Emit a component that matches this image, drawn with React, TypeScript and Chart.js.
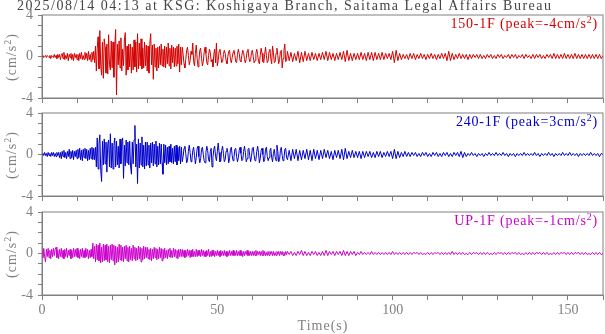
import React, { useEffect, useRef } from "react";
import { Chart, registerables } from "chart.js";

Chart.register(...registerables);

// ---------------- data ----------------
const TITLE = "2025/08/14 04:13 at KSG: Koshigaya Branch, Saitama Legal Affairs Bureau";
const EARLY_INTERVAL_S = 0.25; // sample interval for 0–70 s
const LATE_START_S = 70;
const LATE_INTERVAL_S = 0.5; // sample interval for 70–160 s
const VALUE_UNIT = 0.1; // values below are in units of 0.1 cm/s^2
const X_TICK_VALUES = [0, 10, 20, 30, 40, 50, 60, 70, 80, 90, 100, 110, 120, 130, 140, 150, 160];
const X_TICK_LABELS = [0, 50, 100, 150];
const Y_TICK_VALUES = [-4, -3, -2, -1, 0, 1, 2, 3, 4];
const Y_TICK_LABELS = [-4, 0, 4];
const CHANNEL_NAMES = ["150-1F", "240-1F", "UP-1F"];
const CHANNEL_PEAKS = ["-4", "3", "-1"];

// 150-1F, 0–70 s (every 0.25 s), 0.1 cm/s^2
const ACC_150_1F_EARLY = [
  0, 1, -1, 0, 1, -1, 1, 0, -1, 1, -2, 1, 0, -1, 2, -1, 1, -2, 2, -1,
  2, -3, 1, 3, -2, 4, -3, 1, -2, 3, -4, 2, -1, 3, -3, 2, -4, 3, -1, 2,
  -3, 2, -4, 3, -2, 4, -3, 1, -3, 4, -2, 3, -4, 5, -3, 2, -5, 4, -3, 5,
  -6, 10, -14, 8, 19, -12, 25, -9, -18, 14, -21, 17, 9, -16, 12, -17, 21, -8, -13, 15,
  -11, 14, -20, 9, 26, -37, 12, -8, 15, -11, 18, -14, 7, -9, 16, 23, -18, 10, -13, 12,
  -10, 12, -16, 9, -13, 16, -10, 14, -15, 22, -12, 13, -9, 17, -12, 8, -11, 14, -9, 11,
  -14, 10, -16, 13, 22, -8, 11, -22, 12, -10, 8, -14, 9, -11, 10, -8, 12, -9, 7, -10,
  10, -11, 9, -7, 13, -9, 8, -12, 11, -6, 9, -10, 8, -9, 10, -7, 12, -15, 9, -8,
  9, 2, -7, -11, -3, 6, 9, 1, -8, -4, 5, 2, 13, -5, -9, 3, 11, -2, -10, -4,
  6, 8, -2, -9, -5, 4, 9, 3, -6, -8, 1, 7, 4, -5, -3, -10, 2, 7, -6, 13,
  -9, -4, 5, 7, 1, -6, -5, 2, 6, 3, -4, -7, 0, 5, 6, -3, -6, -1, 4, 6,
  1, -5, -6, 2, 7, 3, -4, -5, 1, 6, 4, -3, -6, -2, 5, 7, -1, -5, -3, 4,
  6, 0, -6, -4, 3, 7, 2, -5, -7, 1, 8, 3, -5, -6, 2, 9, 1, -6, -4, 5,
  7, -2, -7, 10, 4, -6, -5, 3, 8, 1, -7, -3, 5, 6, -11, -2, 6, 12, -5, -4,
];

// 150-1F, 70–160 s (every 0.5 s)
const ACC_150_1F_LATE = [
  5, -4, 4, -5, 3, -4, 5, -6, 4, -5,
  5, -4, 3, -4, 4, -3, 3, -4, 3, -3,
  4, -3, 5, -4, 4, -3, 3, -4, 3, -3,
  4, -3, 5, -5, 6, -4, 3, -4, 3, -3,
  3, -3, 4, -3, 3, -4, 4, -3, 4, -4,
  4, -3, 3, -3, 4, -3, 3, -2, 3, -3,
  5, -6, 6, -4, 3, -3, 2, -2, 2, -3,
  3, -2, 3, -3, 2, -2, 3, -2, 2, -3,
  2, -2, 3, -2, 2, -3, 2, -2, 3, -2,
  3, -4, 5, -4, 3, -3, 2, -2, 3, -2,
  2, -2, 2, -3, 2, -2, 2, -1, 2, -2,
  2, -2, 1, -2, 2, -1, 2, -2, 1, -2,
  2, -1, 2, -2, 1, -1, 2, -2, 2, -1,
  2, -2, 1, -1, 2, -2, 2, -1, 1, -2,
  2, -2, 2, -1, 2, -2, 1, -2, 2, -1,
  2, -2, 3, -2, 2, -2, 2, -2, 3, -2,
  2, -2, 2, -2, 3, -2, 2, -2, 2, -2,
  2, -2, 2, -2, 2, -2, 2, -2, 2, -2,
  1,
];

// 240-1F, 0–70 s (every 0.25 s)
const ACC_240_1F_EARLY = [
  0, 1, -1, 2, -1, 1, -2, 2, -1, 1, -2, 2, -1, 2, -2, 1, -2, 2, -1, 2,
  -3, 2, -4, 3, -2, 4, -3, 2, -4, 3, -2, 5, -4, 3, -3, 4, -5, 3, -2, 4,
  -4, 5, -3, 6, -5, 4, -6, 5, -3, 6, -4, 5, -6, 4, -5, 6, -4, 7, -5, 6,
  -5, 7, -12, 16, -14, 10, 19, -15, -26, 13, -10, 15, -9, 12, -17, 10, 14, -12, 20, -13,
  11, -14, 9, 16, -12, 13, -10, 8, -13, 15, -9, 11, 16, -23, 9, -11, 14, -8, 12, -10,
  13, -11, -19, 12, -9, 14, 28, -12, 10, -28, 15, -13, 11, -10, 17, -12, 9, -14, 12, -11,
  12, -10, 9, -13, 11, -8, 12, -11, 10, -9, 13, -12, 8, -10, 11, -9, 10, -8, -19, 10,
  -8, 9, -10, 7, -9, 8, -7, 10, -8, 6, -9, 8, -7, 9, -10, 7, -6, 8, -9, 7,
  -7, -2, 6, 8, 1, -8, -6, 3, 9, 2, -7, -5, 4, 7, -1, -9, -3, 6, 8, -2,
  -8, -4, 5, 7, 0, -6, -8, 2, 8, 4, -5, -7, 3, 6, -12, -3, 5, 8, -2, -6,
  3, 11, 2, -7, -6, 4, 8, 1, -7, -5, 3, 6, 2, -8, -4, 5, 7, -1, -6, -3,
  5, 6, -2, -7, -3, 4, 7, 1, -6, -5, 3, 8, 2, -7, -4, 5, 6, -1, -7, -2,
  6, 7, -1, -6, -5, 3, 8, 2, -8, -4, 4, 6, 0, -7, -5, 5, 7, -2, -6, -3,
  4, 6, -3, -7, 1, 5, -2, -6, 9, 3, -7, -5, 4, 7, -1, -6, -4, 5, 6, -3,
];

// 240-1F, 70–160 s (every 0.5 s)
const ACC_240_1F_LATE = [
  -5, 4, -6, 5, -4, 5, -6, 4, -5, 4,
  -4, 5, -5, 4, -6, 5, -4, 4, -5, 4,
  -4, 5, -3, 4, -4, 3, -5, 4, -3, 4,
  -4, 5, -5, 6, -4, 3, -3, 4, -3, 3,
  -3, 3, -4, 3, -3, 3, -2, 3, -3, 2,
  -3, 3, -2, 3, -3, 2, -2, 3, -2, 3,
  -4, 5, -4, 3, -3, 2, -2, 3, -2, 2,
  -2, 2, -1, 2, -2, 1, -2, 2, -1, 2,
  -2, 1, -2, 2, -1, 2, -2, 1, -2, 2,
  -1, 2, -2, 1, -2, 2, -1, 2, -2, 3,
  -3, 2, -2, 1, -1, 2, -1, 1, -2, 1,
  -1, 1, -2, 1, -1, 2, -1, 1, -1, 2,
  -1, 1, -1, 2, -1, 1, -2, 1, -1, 1,
  -2, 1, -1, 1, -1, 2, -1, 1, -1, 1,
  -1, 2, -1, 1, -2, 1, -1, 1, -1, 2,
  -1, 1, -2, 1, -1, 1, -1, 2, -1, 1,
  -1, 2, -1, 1, -1, 1, -2, 1, -1, 1,
  -1, 1, -1, 2, -1, 1, -1, 1, -2, 1,
  0,
];

// UP-1F, 0–70 s (every 0.25 s)
const ACC_UP_1F_EARLY = [
  3, -4, 5, -3, -8, 4, -3, 5, -4, 3, -5, 4, -3, 5, -2, 4, 6, -4, 3, -5,
  4, -3, 5, -4, 3, -5, 4, -3, 5, -4, 3, -2, 4, -5, 3, -4, 5, -3, 4, -3,
  5, -4, 3, -5, 4, -3, 5, -4, 3, -4, 5, -3, 4, -5, 3, -4, 4, -3, 10, -5,
  7, -8, 9, -6, 8, -7, 10, -9, 6, -8, 9, -7, 8, -6, 9, -8, 7, -9, 8, -6,
  9, -7, 8, -11, 7, -9, 6, -8, 9, -6, 8, -7, 6, -8, 7, -5, 8, -7, 6, -8,
  7, -6, 5, -7, 8, -5, 6, -7, 5, -6, 7, -5, 6, -8, 5, -6, 7, -5, 6, -4,
  6, -5, 4, -6, 5, -7, 4, -5, 6, -4, 5, -6, 4, -5, 6, -4, 5, -7, 4, -5,
  5, -4, 3, -5, 4, -3, 5, -4, 3, -4, 5, -3, 4, -4, 3, -5, 4, -3, 4, -3,
  4, -3, 3, -4, 3, -3, 4, -2, 3, -4, 3, -3, 4, -3, 2, -3, 4, -3, 3, -2,
  3, -3, 4, -2, 3, -3, 2, -3, 3, -2, 4, -3, 2, -3, 3, -2, 3, -3, 2, -2,
  3, -2, 2, -3, 3, -2, 2, -2, 3, -2, 2, -3, 2, -2, 3, -2, 2, -2, 3, -2,
  2, -2, 3, -2, 2, -2, 3, -2, 2, -3, 2, -2, 2, -1, 3, -2, 2, -2, 2, -2,
  2, -2, 2, -2, 3, -2, 2, -1, 2, -2, 2, -2, 3, -2, 2, -2, 1, -2, 2, -2,
  2, -1, 2, -2, 2, -2, 1, -2, 2, -1, 2, -2, 2, -1, 2, -2, 1, -2, 2, -1,
];

// UP-1F, 70–160 s (every 0.5 s)
const ACC_UP_1F_LATE = [
  2, -1, 2, -2, 1, -2, 2, -1, 3, -2,
  2, -2, 1, -2, 2, -1, 2, -2, 1, -2,
  2, -2, 3, -2, 2, -1, 2, -2, 2, -1,
  2, -2, 3, -2, 2, -2, 2, -1, 2, -2,
  1, -1, 2, -1, 1, -1, 1, -1, 2, -1,
  1, -1, 1, -1, 1, -1, 1, -1, 1, -1,
  2, -1, 1, -1, 1, -1, 1, -1, 1, -1,
  1, -1, 1, 0, 1, -1, 1, -1, 0, -1,
  1, -1, 1, -1, 1, 0, 1, -1, 1, -1,
  1, -1, 1, -1, 2, -1, 1, -1, 1, -1,
  1, -1, 0, -1, 1, -1, 1, 0, 1, -1,
  1, -1, 1, -1, 1, -1, 0, -1, 1, -1,
  1, 0, 1, -1, 1, -1, 1, -1, 1, 0,
  1, -1, 1, -1, 0, -1, 1, -1, 1, -1,
  1, -1, 1, 0, 1, -1, 1, -1, 1, -1,
  0, -1, 1, -1, 1, -1, 1, 0, 1, -1,
  1, -1, 1, -1, 1, 0, 1, -1, 1, -1,
  1, -1, 0, -1, 1, -1, 1, -1, 1, -1,
  0,
];

const CHANNEL_EARLY = [ACC_150_1F_EARLY, ACC_240_1F_EARLY, ACC_UP_1F_EARLY];
const CHANNEL_LATE = [ACC_150_1F_LATE, ACC_240_1F_LATE, ACC_UP_1F_LATE];

// ---------------- layout / style ----------------
const W = 605;
const H = 334;
const PLOT_LEFT = 42;
const PLOT_RIGHT = 604;
const PANEL_TOPS = [15, 113, 212];
const PANEL_BOTTOMS = [98, 196, 295];
const X_SCALE_H = 20;
const COLORS = ["#d40000", "#0000cc", "#cc00cc"];
const GRAY = "#808080";
const FONT = "'Liberation Serif', 'Times New Roman', serif";

const framePlugin = {
  id: "frame",
  afterDraw(chart: any) {
    const { ctx, chartArea: a } = chart;
    ctx.save();
    ctx.strokeStyle = GRAY;
    ctx.lineWidth = 1;
    ctx.strokeRect(a.left, a.top, a.right - a.left, a.bottom - a.top);
    ctx.restore();
  },
};

function Panel({ idx }: { idx: number }) {
  const ref = useRef<HTMLCanvasElement | null>(null);
  useEffect(() => {
    const canvas = ref.current;
    if (!canvas) return;
    const early = CHANNEL_EARLY[idx].map((v, i) => ({ x: i * EARLY_INTERVAL_S, y: v * VALUE_UNIT }));
    const late = CHANNEL_LATE[idx].map((v, i) => ({
      x: LATE_START_S + i * LATE_INTERVAL_S,
      y: v * VALUE_UNIT,
    }));
    const data = early.concat(late);
    const showX = idx === 2;
    const chart = new Chart(canvas, {
      type: "line",
      data: {
        datasets: [
          {
            data,
            borderColor: COLORS[idx],
            borderWidth: 1,
            pointRadius: 0,
            tension: 0,
            fill: false,
          },
        ],
      },
      options: {
        animation: false,
        responsive: false,
        maintainAspectRatio: false,
        events: [],
        layout: {
          padding: {
            left: 0,
            right: W - PLOT_RIGHT,
            top: PANEL_TOPS[idx],
            bottom: H - PANEL_BOTTOMS[idx] - X_SCALE_H,
          },
        },
        plugins: {
          legend: { display: false },
          tooltip: { enabled: false },
        },
        scales: {
          x: {
            type: "linear",
            min: 0,
            max: 160,
            afterBuildTicks: (s: any) => {
              s.ticks = X_TICK_VALUES.map((v) => ({ value: v }));
            },
            afterFit: (s: any) => {
              s.height = X_SCALE_H;
            },
            ticks: {
              autoSkip: false,
              maxRotation: 0,
              minRotation: 0,
              color: GRAY,
              font: { family: FONT, size: 14 },
              padding: 2,
              callback: (v: any) => (showX && X_TICK_LABELS.includes(Number(v)) ? String(v) : ""),
            },
            grid: { drawOnChartArea: false, drawTicks: true, tickLength: 5, color: GRAY },
            border: { display: true, color: GRAY },
          },
          y: {
            type: "linear",
            min: -4,
            max: 4,
            afterBuildTicks: (s: any) => {
              s.ticks = Y_TICK_VALUES.map((v) => ({ value: v }));
            },
            afterFit: (s: any) => {
              s.width = PLOT_LEFT;
            },
            ticks: {
              autoSkip: false,
              color: GRAY,
              font: { family: FONT, size: 14 },
              padding: 5,
              callback: (v: any) => (Y_TICK_LABELS.includes(Number(v)) ? String(v) : ""),
            },
            grid: { drawOnChartArea: false, drawTicks: true, tickLength: 4, color: GRAY },
            border: { display: true, color: GRAY },
          },
        },
      } as any,
      plugins: [framePlugin],
    });
    return () => chart.destroy();
  }, [idx]);
  return (
    <canvas
      ref={ref}
      width={W}
      height={H}
      style={{ position: "absolute", left: 0, top: 0, width: W, height: H }}
    />
  );
}

export default function App() {
  const textBase: React.CSSProperties = {
    position: "absolute",
    fontFamily: FONT,
    fontSize: 14,
    lineHeight: "14px",
    whiteSpace: "nowrap",
  };
  const supStyle: React.CSSProperties = { fontSize: 10, verticalAlign: 5, lineHeight: 0 };
  return (
    <div
      style={{
        position: "fixed",
        left: 0,
        top: 0,
        width: W,
        height: H,
        background: "#fff",
        overflow: "hidden",
      }}
    >
      {[0, 1, 2].map((i) => (
        <Panel key={i} idx={i} />
      ))}
      <div style={{ ...textBase, left: 17, top: -1, color: "#444", letterSpacing: 1.5 }}>{TITLE}</div>
      {[0, 1, 2].map((i) => (
        <div
          key={"lab" + i}
          style={{
            ...textBase,
            right: W - 598,
            top: PANEL_TOPS[i] + 2,
            color: COLORS[i],
            letterSpacing: 0.8,
          }}
        >
          {CHANNEL_NAMES[i]} (peak={CHANNEL_PEAKS[i]}cm/s
          <sup style={supStyle}>2</sup>)
        </div>
      ))}
      {[0, 1, 2].map((i) => (
        <div
          key={"yt" + i}
          style={{
            ...textBase,
            left: 12,
            top: (PANEL_TOPS[i] + PANEL_BOTTOMS[i]) / 2,
            color: GRAY,
            letterSpacing: 1,
            transform: "translate(-50%, -50%) rotate(-90deg)",
          }}
        >
          (cm/s<sup style={supStyle}>2</sup>)
        </div>
      ))}
      <div
        style={{
          ...textBase,
          left: 323,
          top: 319,
          color: GRAY,
          letterSpacing: 1,
          transform: "translateX(-50%)",
        }}
      >
        Time(s)
      </div>
    </div>
  );
}
